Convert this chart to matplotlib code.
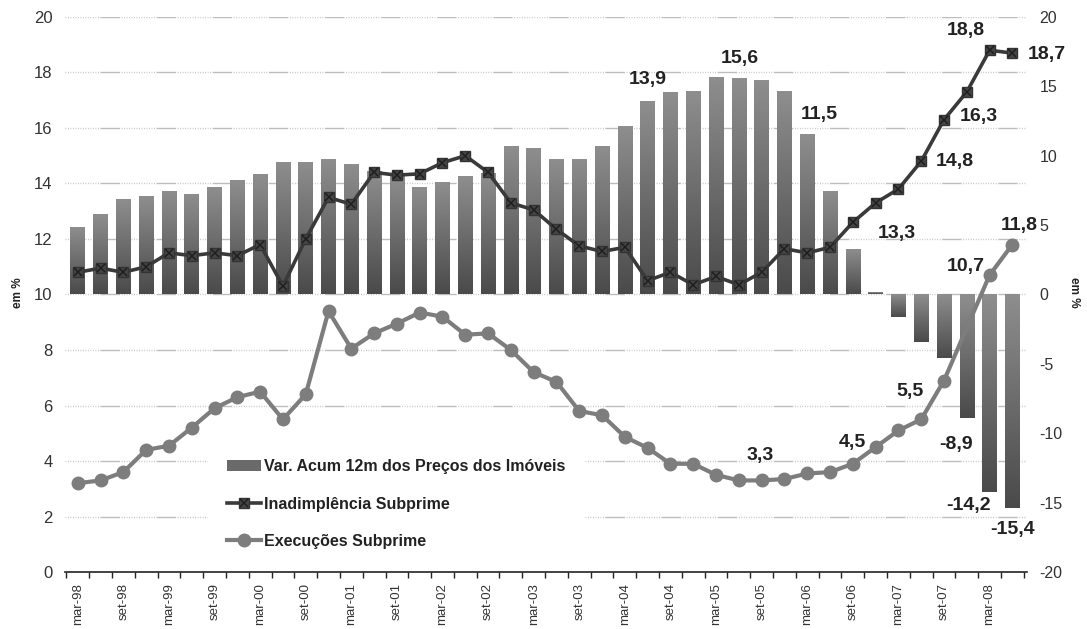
import numpy as np
import matplotlib.pyplot as plt
from matplotlib.colors import LinearSegmentedColormap
from matplotlib.lines import Line2D
from matplotlib.patches import Patch

plt.rcParams['font.family'] = ['Liberation Sans', 'DejaVu Sans']

# trimestres de mar-98 a jun-08, rotulo a cada semestre
rotulos_x = ['mar-98', 'set-98', 'mar-99', 'set-99', 'mar-00', 'set-00', 'mar-01',
             'set-01', 'mar-02', 'set-02', 'mar-03', 'set-03', 'mar-04', 'set-04',
             'mar-05', 'set-05', 'mar-06', 'set-06', 'mar-07', 'set-07', 'mar-08']

# var. acum. 12m dos precos dos imoveis (eixo direito)
precos = [4.8, 5.7, 6.8, 7.0, 7.4, 7.2, 7.7, 8.2, 8.6, 9.5, 9.5, 9.7, 9.3, 8.8,
          8.6, 7.7, 8.0, 8.5, 8.7, 10.6, 10.5, 9.7, 9.7, 10.6, 12.1, 13.9, 14.5, 14.6,
          15.6, 15.5, 15.4, 14.6, 11.5, 7.4, 3.2, 0.1, -1.6, -3.4, -4.6, -8.9, -14.2, -15.4]

# inadimplencia subprime (eixo esquerdo)
inadimplencia = [10.8, 10.95, 10.8, 11.0, 11.5, 11.4, 11.5, 11.4, 11.8, 10.3, 12.0, 13.5,
                 13.25, 14.4, 14.3, 14.35, 14.75, 15.0, 14.4, 13.3, 13.05, 12.35, 11.75,
                 11.55, 11.7, 10.5, 10.8, 10.35, 10.65, 10.35, 10.8, 11.65, 11.5, 11.7,
                 12.6, 13.3, 13.8, 14.8, 16.3, 17.3, 18.8, 18.7]

# execucoes subprime (eixo esquerdo)
execucoes = [3.2, 3.3, 3.6, 4.4, 4.55, 5.2, 5.9, 6.3, 6.5, 5.5, 6.4, 9.4, 8.05, 8.6,
             8.95, 9.35, 9.2, 8.55, 8.6, 8.0, 7.2, 6.85, 5.8, 5.65, 4.87, 4.47, 3.9, 3.9,
             3.5, 3.3, 3.3, 3.35, 3.55, 3.6, 3.9, 4.5, 5.1, 5.5, 6.9, 8.8, 10.7, 11.8]

x = np.arange(len(precos))

def fmt(v):
    return f'{v:.1f}'.replace('.', ',')

fig = plt.figure(figsize=(10.87, 6.29), dpi=100)
ax = fig.add_axes([0.060, 0.0906, 0.885, 0.8824])
ax2 = ax.twinx()
ax.set_zorder(ax2.get_zorder() + 1)
ax.patch.set_visible(False)

ax.set_xlim(-0.55, 41.65)
ax.set_ylim(0, 20)
ax2.set_ylim(-20, 20)

# grade (desenhada atras das barras)
padrao = [0.6, 1.2] * 14 + [14, 1.2]
for g in np.arange(2, 21, 2):
    ax2.axhline(g * 2 - 20, color='#bdbdbd', lw=1.0, linestyle=(0, padrao), zorder=0)

# barras com degrade
cmap = LinearSegmentedColormap.from_list('grad', ['#4a4a4a', '#8e8e8e'])
barras = ax2.bar(x, precos, width=0.64, color='none', edgecolor='none', zorder=2)
grad = np.linspace(0, 1, 128).reshape(-1, 1)
for b, v in zip(barras, precos):
    x0 = b.get_x()
    x1 = x0 + b.get_width()
    ax2.imshow(grad, cmap=cmap, origin='lower', aspect='auto',
               extent=(x0, x1, min(0, v), max(0, v)), zorder=2)
ax2.set_xlim(-0.55, 41.65)
ax2.set_ylim(-20, 20)

# linhas
ax.plot(x, inadimplencia, color='#3a3a3a', lw=2.6, marker='s', ms=7,
        mfc='#454545', mec='#333333', zorder=4)
ax.plot(x, inadimplencia, linestyle='none', marker='x', ms=6, mec='#1e1e1e',
        mew=1.1, zorder=5)
sem_marca = [i for i in range(len(execucoes)) if i != 39]
ax.plot(x, execucoes, color='#7d7d7d', lw=3, marker='o', ms=9, mfc='#7d7d7d',
        mec='#7d7d7d', markevery=sem_marca, zorder=4)

# rotulos de dados
est = dict(fontsize=14, fontweight='bold', color='#222222', ha='center', va='center',
           textcoords='offset points')
for i, dx, dy in [(25, 0, 16), (28, 17, 14), (32, 9, 15), (39, -8, -19),
                  (40, -15, -10), (41, 0, -15)]:
    ax2.annotate(fmt(precos[i]), (x[i], precos[i]), xytext=(dx, dy), zorder=6, **est)
for i, dx, dy in [(35, 15, -22), (37, 24, 0), (38, 25, 2), (40, -17, 14), (41, 25, -1)]:
    ax.annotate(fmt(inadimplencia[i]), (x[i], inadimplencia[i]), xytext=(dx, dy), **est)
for i, dx, dy in [(29, 15, 18), (35, -17, 3), (37, -8, 20), (40, -17, 6), (41, 5, 14)]:
    ax.annotate(fmt(execucoes[i]), (x[i], execucoes[i]), xytext=(dx, dy), **est)

# eixos
for a in (ax, ax2):
    for s in ('top', 'left', 'right'):
        a.spines[s].set_visible(False)
ax2.spines['bottom'].set_visible(False)
ax.spines['bottom'].set_color('#222222')
ax.spines['bottom'].set_linewidth(1.2)
ax.spines['bottom'].set_zorder(6)

ax.set_yticks(np.arange(0, 21, 2))
ax.tick_params(axis='y', length=0, pad=9, labelsize=12, labelcolor='#333333')
ax2.set_yticks(np.arange(-20, 21, 5))
ax2.set_yticklabels([str(v) for v in range(-20, 21, 5)])
ax2.tick_params(axis='y', length=0, pad=9, labelsize=11.5, labelcolor='#333333')

ax.set_xticks(x[::2])
ax.set_xticklabels(rotulos_x, rotation=90, ha='center', va='top')
ax.set_xticks(np.arange(-0.5, 41.6, 1), minor=True)
ax.tick_params(axis='x', which='major', length=0, pad=8, labelsize=9.5,
               labelcolor='#333333')
ax.tick_params(axis='x', which='minor', length=4, width=1, color='#222222')
ax2.tick_params(axis='x', bottom=False, labelbottom=False)

fig.text(0.017, 0.535, 'em %', rotation=90, ha='center', va='center',
         fontsize=8.5, fontweight='bold', color='#222222')
fig.text(0.988, 0.535, 'em %', rotation=-90, ha='center', va='center',
         fontsize=8.5, fontweight='bold', color='#222222')

# legenda
h_barra = Patch(facecolor='#6a6a6a', edgecolor='none')
h_inad = (Line2D([], [], color='#3a3a3a', lw=2.6, marker='s', ms=7, mfc='#454545', mec='#333333'),
          Line2D([], [], linestyle='none', marker='x', ms=6, mec='#1e1e1e', mew=1.1))
h_exec = Line2D([], [], color='#7d7d7d', lw=3, marker='o', ms=9)
leg = ax.legend([h_barra, h_inad, h_exec],
                ['Var. Acum 12m dos Preços dos Imóveis', 'Inadimplência Subprime',
                 'Execuções Subprime'],
                loc='upper left', bbox_to_anchor=(208 / 1087, 1 - 440 / 629),
                bbox_transform=fig.transFigure, frameon=True, facecolor='white',
                edgecolor='none', framealpha=1, fancybox=False, borderpad=1.2,
                handlelength=2.1, handletextpad=0.2, labelspacing=1.4,
                borderaxespad=0, prop=dict(size=11.5, weight='bold'))
for t in leg.get_texts():
    t.set_color('#222222')
leg.set_zorder(3)

fig.savefig('out.png', dpi=100)
